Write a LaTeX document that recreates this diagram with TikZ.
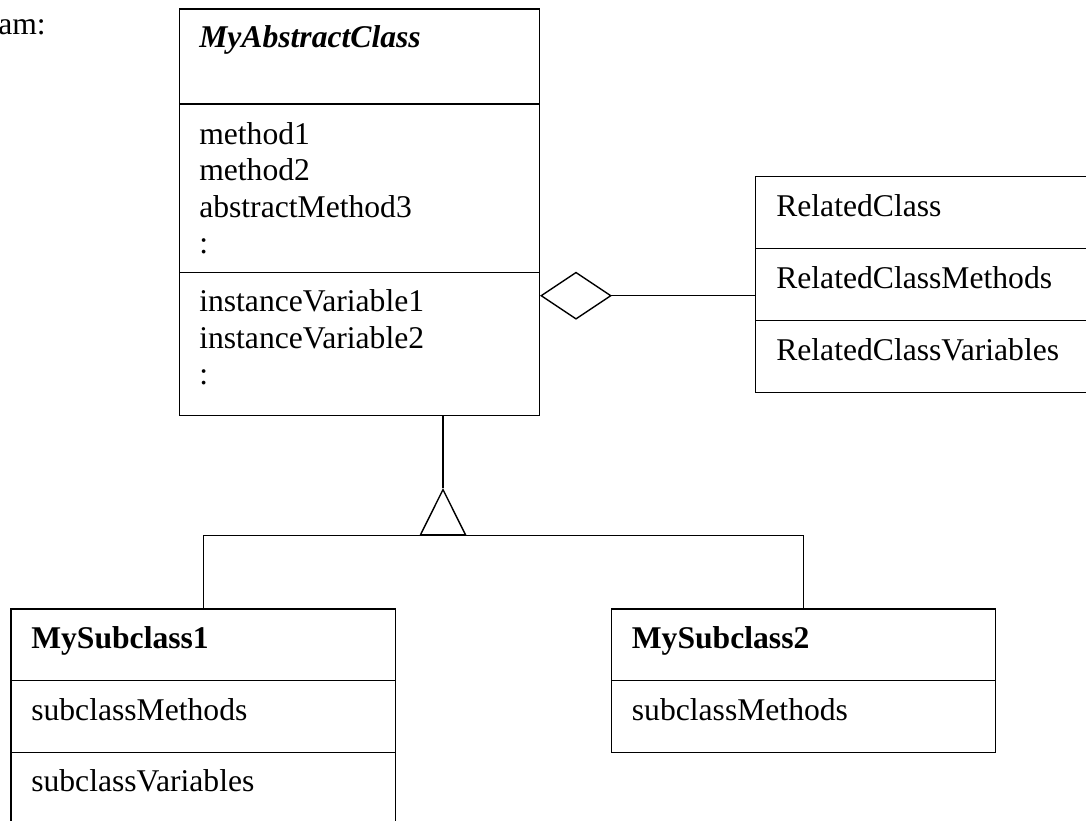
\documentclass[tikz,border=0pt]{standalone}
\usepackage{fontspec}
\setmainfont{Liberation Serif}
\usetikzlibrary{arrows.meta,positioning,calc}
\newcommand{\umlfont}{\fontsize{22.5}{26}\selectfont}

\begin{document}
\begin{tikzpicture}[
  comp/.style={rectangle, draw, line width=1pt, anchor=north west, inner sep=0pt},
  txt/.style={anchor=base west, inner sep=0pt, font=\umlfont},
  line/.style={line width=1pt},
  agg/.style={line, -{Diamond[open, length=1.8cm, width=1.2cm]}},
  inh/.style={line, -{Triangle[open, length=1.19cm, width=1.175cm]}}
]
  \useasboundingbox (0,0) rectangle (27.15,-20.525);
  \clip (0,0) rectangle (27.15,-20.525);

  \node[txt, anchor=base east] (capt) at (1.15,-0.875) {am:};

  \node[comp, minimum width=9cm, minimum height=2.375cm] (abs1) at (4.465,-0.2075) {};
  \node[comp, minimum width=9cm, minimum height=4.21cm] (abs2) at (4.465,-2.5825) {};
  \node[comp, minimum width=9cm, minimum height=3.5825cm] (abs3) at (4.465,-6.7925) {};
  \node[txt, font=\umlfont\bfseries\itshape] (absname) at (4.975,-1.2) {MyAbstractClass};
  \node[txt] (meth1) at (4.975,-3.6) {method1};
  \node[txt] (meth2) at (4.975,-4.5125) {method2};
  \node[txt] (meth3) at (4.975,-5.425) {abstractMethod3};
  \node[txt] (methdots) at (4.975,-6.3375) {:};
  \node[txt] (var1) at (4.975,-7.79) {instanceVariable1};
  \node[txt] (var2) at (4.975,-8.7) {instanceVariable2};
  \node[txt] (vardots) at (4.975,-9.61) {:};

  \node[comp, minimum width=9.5cm, minimum height=1.8cm] (rel1) at (18.865,-4.4) {};
  \node[comp, minimum width=9.5cm, minimum height=1.8cm] (rel2) at (18.865,-6.2) {};
  \node[comp, minimum width=9.5cm, minimum height=1.8cm] (rel3) at (18.865,-8.0) {};
  \node[txt] (relname) at (19.4,-5.4) {RelatedClass};
  \node[txt] (relmeth) at (19.4,-7.2) {RelatedClassMethods};
  \node[txt] (relvar) at (19.4,-9.0) {RelatedClassVariables};

  \node[comp, minimum width=9.61cm, minimum height=1.79cm] (sub1a) at (0.26,-15.2075) {};
  \node[comp, minimum width=9.61cm, minimum height=1.79cm] (sub1b) at (0.26,-16.9975) {};
  \node[comp, minimum width=9.61cm, minimum height=2.5cm] (sub1c) at (0.26,-18.7875) {};
  \node[txt, font=\umlfont\bfseries] (sub1name) at (0.775,-16.2) {MySubclass1};
  \node[txt] (sub1meth) at (0.775,-18.0) {subclassMethods};
  \node[txt] (sub1var) at (0.775,-19.79) {subclassVariables};

  \node[comp, minimum width=9.6cm, minimum height=1.79cm] (sub2a) at (15.27,-15.2075) {};
  \node[comp, minimum width=9.6cm, minimum height=1.79cm] (sub2b) at (15.27,-16.9975) {};
  \node[txt, font=\umlfont\bfseries] (sub2name) at (15.79,-16.2) {MySubclass2};
  \node[txt] (sub2meth) at (15.79,-18.0) {subclassMethods};

  \coordinate (aggy) at (0,-7.3925);
  \coordinate (hub) at (11.075,-13.3925);
  \coordinate (apex) at (11.075,-12.2);

  \draw[agg] (rel2.west |- aggy) -- (abs3.east |- aggy);
  \draw[inh] (hub) -- (apex);
  \draw[line] (apex) -- (abs3.south -| apex);
  \draw[line] (sub1a.north) |- (hub) -| (sub2a.north);
\end{tikzpicture}
\end{document}
